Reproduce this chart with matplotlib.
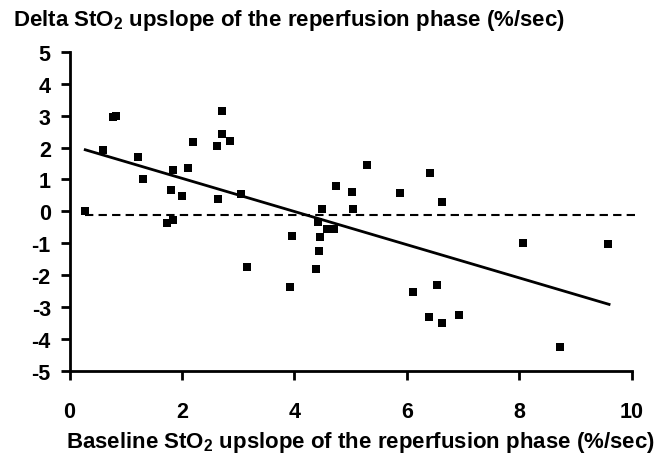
import numpy as np
import matplotlib
matplotlib.use('Agg')
import matplotlib.pyplot as plt

plt.rcParams['font.family'] = 'Liberation Sans'
plt.rcParams['font.weight'] = 'bold'
plt.rcParams['axes.unicode_minus'] = False
plt.rcParams['mathtext.fontset'] = 'custom'
plt.rcParams['mathtext.bf'] = 'Liberation Sans:bold'
plt.rcParams['mathtext.rm'] = 'Liberation Sans:bold'

# baseline upslope (x) vs delta upslope (y)
base = [0.28, 0.78, 0.82, 0.60, 1.21, 1.30, 1.85, 1.81, 2.00, 2.10, 2.19,
        1.74, 1.85, 2.62, 2.72, 2.71, 2.86, 2.65, 3.05, 3.16, 3.92, 3.96,
        4.49, 4.42, 4.45, 4.44, 4.39, 4.58, 4.71, 4.75, 5.03, 5.04,
        5.29, 6.41, 5.88, 6.62, 8.06, 9.58, 6.11, 6.54, 6.40, 6.62, 6.93, 8.72]
delta = [0.01, 2.95, 2.98, 1.91, 1.69, 1.00, 1.31, 0.66, 0.47, 1.37, 2.17,
         -0.36, -0.26, 2.04, 3.14, 2.43, 2.22, 0.38, 0.55, -1.74, -2.36, -0.76,
         0.06, -0.35, -0.82, -1.24, -1.80, -0.57, -0.54, 0.78, 0.59, 0.06,
         1.44, 1.21, 0.56, 0.30, -0.99, -1.02, -2.52, -2.30, -3.31, -3.49, -3.24, -4.25]

# regression line ends and dashed reference line
fit_x = [0.28, 9.6]
fit_y = [1.93, -2.92]
ref_x = [0.28, 10.1]
ref_y = [-0.13, -0.13]

fig = plt.figure(figsize=(6.62, 4.60), dpi=100)
ax = fig.add_axes([0.105, 0.192, 0.849, 0.693])

ax.plot(ref_x, ref_y, color='black', lw=1.5, dashes=(4, 2.5), clip_on=False)
ax.plot(fit_x, fit_y, color='black', lw=2)
ax.plot(base, delta, 's', color='black', ms=5.8, mew=0)

ax.set_xlim(0, 10)
ax.set_ylim(-5, 5)
ax.set_xticks(np.arange(0, 11, 2))
ax.set_yticks(np.arange(-5, 6, 1))
ax.spines['top'].set_visible(False)
ax.spines['right'].set_visible(False)
for s in ['left', 'bottom']:
    ax.spines[s].set_linewidth(2)
ax.tick_params(width=2, length=6.5, labelsize=15.5)
ax.tick_params(axis='y', pad=7)
ax.tick_params(axis='x', pad=15)
for lab in ax.get_xticklabels() + ax.get_yticklabels():
    lab.set_fontweight('bold')

fig.text(0.02, 0.956, r'Delta StO$_\mathbf{2}$ upslope of the reperfusion phase (%/sec)',
         fontsize=16, fontweight='bold', ha='left', va='center')
fig.text(0.544, 0.039, r'Baseline StO$_\mathbf{2}$ upslope of the reperfusion phase (%/sec)',
         fontsize=16, fontweight='bold', ha='center', va='center')

fig.savefig('out.png', dpi=100)
